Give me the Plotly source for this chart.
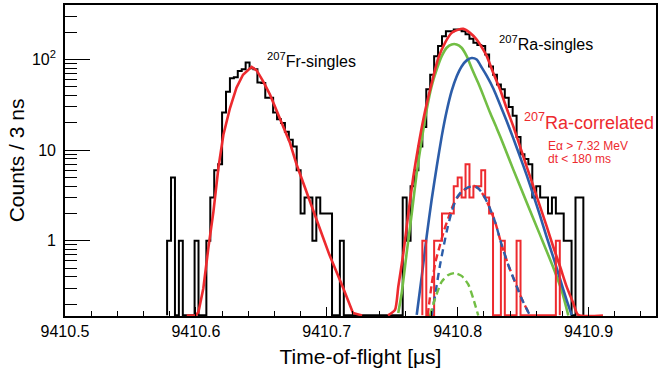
import numpy as np
import plotly.graph_objects as go

# ---------------- data ----------------
bin_width = 0.003
black_first_edge = 9410.578          # lower edge of first listed bin
black_counts = [
    1, 5, 0, 1, 0, 0, 0, 1, 0, 0,
    1, 3, 6, 7, 26, 44, 62, 64, 75, 78,
    93, 80, 78, 56, 55, 38, 38, 26, 22, 20,
    16, 13, 11, 6, 2, 3, 3, 1, 3, 2,
    2, 2, 0, 0, 1, 0, 0, 0, 0, 0,
    0, 0, 0, 0, 0, 0, 0, 0, 0, 0,
    3, 1, 4, 6, 11, 18, 47, 68, 109, 141,
    181, 205, 205, 215, 215, 205, 190, 170, 153, 145,
    141, 114, 84, 68, 53, 47, 38, 30, 24, 14,
    9, 8, 7, 3, 4, 3, 3, 2, 3, 2,
    2, 1, 1, 0, 3, 3,
]
red_first_edge = 9410.773
red_counts = [
    1, 0, 0, 1, 1, 2, 2, 2, 4, 5,
    3, 7, 3, 4, 4, 6, 3, 2, 0, 0,
    1, 0, 0, 0, 1, 0, 0, 0, 0, 0,
    0, 0, 0, 0, 1,
]

fr_fit_x = [9410.593, 9410.600, 9410.602, 9410.6057, 9410.6095, 9410.6134, 9410.6172,
            9410.621, 9410.626, 9410.631, 9410.636, 9410.6426, 9410.6464, 9410.6515,
            9410.6566, 9410.6617, 9410.6668, 9410.6719, 9410.677, 9410.682, 9410.687,
            9410.692, 9410.697, 9410.702, 9410.7075, 9410.7126, 9410.720, 9410.727]
fr_fit_y = [0.15, 0.15, 0.165, 0.30, 0.83, 2.1, 6.4, 14.8, 29, 49, 68, 83, 76, 57,
            41, 27, 18.3, 12, 6.9, 4.3, 2.7, 1.7, 1.1, 0.70, 0.46, 0.30, 0.16, 0.15]

ra_fit_x = [9410.7467, 9410.7521, 9410.7546, 9410.7585, 9410.7623, 9410.7661, 9410.7699,
            9410.7737, 9410.7776, 9410.7814, 9410.7852, 9410.7903, 9410.7954, 9410.8005,
            9410.8043, 9410.8094, 9410.8145, 9410.8196, 9410.8222, 9410.8272, 9410.8323,
            9410.8374, 9410.8425, 9410.8476, 9410.8527, 9410.8578, 9410.8629, 9410.868,
            9410.873, 9410.8782, 9410.8833, 9410.8883, 9410.8921, 9410.911]
ra_fit_y = [0.15, 0.173, 0.31, 0.73, 2.0, 5.1, 11, 21.7, 39, 65, 104, 153, 197, 214,
            218, 197, 166, 128, 109, 71, 47, 29, 18.3, 11, 6.6, 4.0, 2.4, 1.44,
            0.86, 0.52, 0.31, 0.205, 0.152, 0.15]

green_x = [9410.7546, 9410.7572, 9410.761, 9410.7649, 9410.7687, 9410.7725, 9410.7763,
           9410.7801, 9410.784, 9410.7878, 9410.7916, 9410.7954, 9410.7992, 9410.803,
           9410.8069, 9410.8107, 9410.8157, 9410.8196, 9410.8247, 9410.8298, 9410.835,
           9410.8425, 9410.8525, 9410.8625, 9410.8725, 9410.8795, 9410.8845]
green_y = [0.16, 0.264, 0.73, 2.0, 5.6, 13, 28, 51, 78, 109, 135, 147, 147, 135, 109,
           80, 55, 40, 26, 17.5, 11.5, 6.1, 2.7, 1.2, 0.53, 0.28, 0.15]

blue_x = [9410.7687, 9410.7725, 9410.7763, 9410.7801, 9410.784, 9410.7878, 9410.7916,
          9410.7954, 9410.7992, 9410.803, 9410.8069, 9410.8107, 9410.8145, 9410.8183,
          9410.8222, 9410.8272, 9410.8323, 9410.8374, 9410.8425, 9410.8476, 9410.8527,
          9410.8578, 9410.8629, 9410.868, 9410.873, 9410.8782, 9410.8833, 9410.8871]
blue_y = [0.152, 0.40, 1.12, 2.84, 6.6, 14.2, 27, 45, 65, 84, 98, 104, 100, 82, 66,
          48, 32, 21, 13.5, 8.5, 5.3, 3.2, 1.9, 1.1, 0.66, 0.38, 0.22, 0.152]

corr_blue_x = [9410.7801, 9410.7827, 9410.7865, 9410.789, 9410.7916, 9410.7954, 9410.7992,
               9410.803, 9410.8081, 9410.8119, 9410.8157, 9410.8196, 9410.8234, 9410.8285,
               9410.8336, 9410.8387, 9410.8438, 9410.8489, 9410.8552]
corr_blue_y = [0.15, 0.25, 0.54, 0.83, 1.27, 2.1, 2.96, 3.5, 3.9, 4.0, 3.8, 3.2, 2.5,
               1.63, 0.90, 0.54, 0.35, 0.23, 0.15]

corr_red_x = [9410.7771, 9410.7801, 9410.7831, 9410.7865, 9410.7897, 9410.7928, 9410.7966,
              9410.8005, 9410.8056, 9410.8119, 9410.8157, 9410.8196, 9410.8234, 9410.8285,
              9410.8336, 9410.8387, 9410.8438, 9410.8489, 9410.8552]
corr_red_y = [0.15, 0.33, 0.59, 0.90, 1.32, 1.78, 2.5, 3.1, 3.7, 4.05, 3.8, 3.2, 2.5,
              1.63, 0.90, 0.54, 0.35, 0.23, 0.15]

corr_green_x = [9410.7788, 9410.7827, 9410.7878, 9410.7928, 9410.7979, 9410.803,
                9410.8081, 9410.8119, 9410.8157]
corr_green_y = [0.15, 0.23, 0.355, 0.42, 0.44, 0.41, 0.33, 0.23, 0.15]

x_major = [9410.5, 9410.6, 9410.7, 9410.8, 9410.9]
x_major_text = ["9410.5", "9410.6", "9410.7", "9410.8", "9410.9"]
y_major = [1, 10, 100]
y_major_text = ["1", "10", "10<sup>2</sup>"]

# ---------------- styling ----------------
RED = "#ED2A2E"
GREEN = "#72BE44"
BLUE = "#2C5DA9"
FONT = "Liberation Sans, Arial, Helvetica, sans-serif"
Y_MIN, Y_MAX = 0.148, 400
FLOOR = 0.151


def step_xy(first_edge, counts):
    counts = np.asarray(counts, dtype=float)
    edges = first_edge + bin_width * np.arange(len(counts) + 1)
    vals = np.where(counts > 0, counts, FLOOR)
    xs = np.concatenate([[edges[0]], edges])
    ys = np.concatenate([[FLOOR], vals, [FLOOR]])
    return xs, ys


fig = go.Figure()

bx, by = step_xy(black_first_edge, black_counts)
fig.add_trace(go.Scatter(x=bx, y=by, mode="lines", line=dict(color="black", width=2, shape="hv")))

fig.add_trace(go.Scatter(x=fr_fit_x, y=fr_fit_y, mode="lines",
                         line=dict(color=RED, width=2.6)))

fig.add_trace(go.Scatter(x=green_x, y=green_y, mode="lines",
                         line=dict(color=GREEN, width=2.6, shape="spline", smoothing=0.6)))
fig.add_trace(go.Scatter(x=blue_x, y=blue_y, mode="lines",
                         line=dict(color=BLUE, width=2.6, shape="spline", smoothing=0.6)))
fig.add_trace(go.Scatter(x=ra_fit_x, y=ra_fit_y, mode="lines",
                         line=dict(color=RED, width=2.6, shape="spline", smoothing=0.6)))

rx, ry = step_xy(red_first_edge, red_counts)
fig.add_trace(go.Scatter(x=rx, y=ry, mode="lines", line=dict(color=RED, width=2, shape="hv")))

fig.add_trace(go.Scatter(x=corr_red_x, y=corr_red_y, mode="lines",
                         line=dict(color=RED, width=2.4, dash="7px,4px", shape="spline", smoothing=0.6)))
fig.add_trace(go.Scatter(x=corr_blue_x, y=corr_blue_y, mode="lines",
                         line=dict(color=BLUE, width=2.4, dash="7px,5px", shape="spline", smoothing=0.6)))
fig.add_trace(go.Scatter(x=corr_green_x, y=corr_green_y, mode="lines",
                         line=dict(color=GREEN, width=2.4, dash="7px,4px", shape="spline", smoothing=0.6)))

x_minor = [v for v in np.round(np.arange(9410.5, 9410.951, 0.02), 3) if v not in x_major]
y_minor = [m * d for d in (0.1, 1, 10, 100) for m in range(2, 10) if Y_MIN < m * d < Y_MAX]

fig.update_layout(
    width=663, height=371,
    margin=dict(l=65, r=7, t=5, b=55),
    paper_bgcolor="white", plot_bgcolor="white",
    showlegend=False,
    font=dict(family=FONT, color="black"),
    xaxis=dict(
        range=[9410.5, 9410.9515],
        showgrid=False, zeroline=False,
        showline=True, linecolor="black", linewidth=1.6, mirror=True,
        tickmode="array", tickvals=x_major, ticktext=x_major_text,
        ticks="inside", ticklen=9, tickwidth=1.2, tickcolor="black",
        minor=dict(tickmode="array", tickvals=x_minor, ticks="inside",
                   ticklen=5, tickwidth=1.2, tickcolor="black", showgrid=False),
        tickfont=dict(size=16, family=FONT),
        title=dict(text="Time-of-flight [μs]", font=dict(size=21, family=FONT), standoff=10),
        automargin=False,
    ),
    yaxis=dict(
        type="log",
        range=[np.log10(Y_MIN), np.log10(Y_MAX)],
        showgrid=False, zeroline=False,
        showline=True, linecolor="black", linewidth=1.6, mirror=True,
        tickmode="array", tickvals=y_major, ticktext=y_major_text,
        ticks="inside", ticklen=25, tickwidth=1.2, tickcolor="black",
        minor=dict(tickmode="array", tickvals=y_minor, ticks="inside",
                   ticklen=12, tickwidth=1.2, tickcolor="black", showgrid=False),
        tickfont=dict(size=16, family=FONT),
        ticklabelstandoff=4,
        title=dict(text="Counts / 3 ns", font=dict(size=21, family=FONT), standoff=2),
        automargin=False,
    ),
)

annots = [
    dict(x=9410.6528, y=2.0, text="<sup>207</sup>Fr-singles", color="black", size=16),
    dict(x=9410.8297, y=2.185, text="<sup>207</sup>Ra-singles", color="black", size=16),
    dict(x=9410.8489, y=1.32, text="<sup>207</sup>Ra-correlated", color=RED, size=18),
    dict(x=9410.8675, y=1.049, text="Eα > 7.32 MeV", color=RED, size=12),
    dict(x=9410.8675, y=0.903, text="dt < 180 ms", color=RED, size=12),
]
for a in annots:
    fig.add_annotation(x=a["x"], y=a["y"], xref="x", yref="y", text=a["text"],
                       showarrow=False, xanchor="left", yanchor="middle",
                       font=dict(size=a["size"], color=a["color"], family=FONT))

fig.write_html(
    "out.html",
    include_plotlyjs=True,
    config={"displayModeBar": False},
    post_script="document.body.style.margin='0';document.body.style.overflow='hidden';",
)
